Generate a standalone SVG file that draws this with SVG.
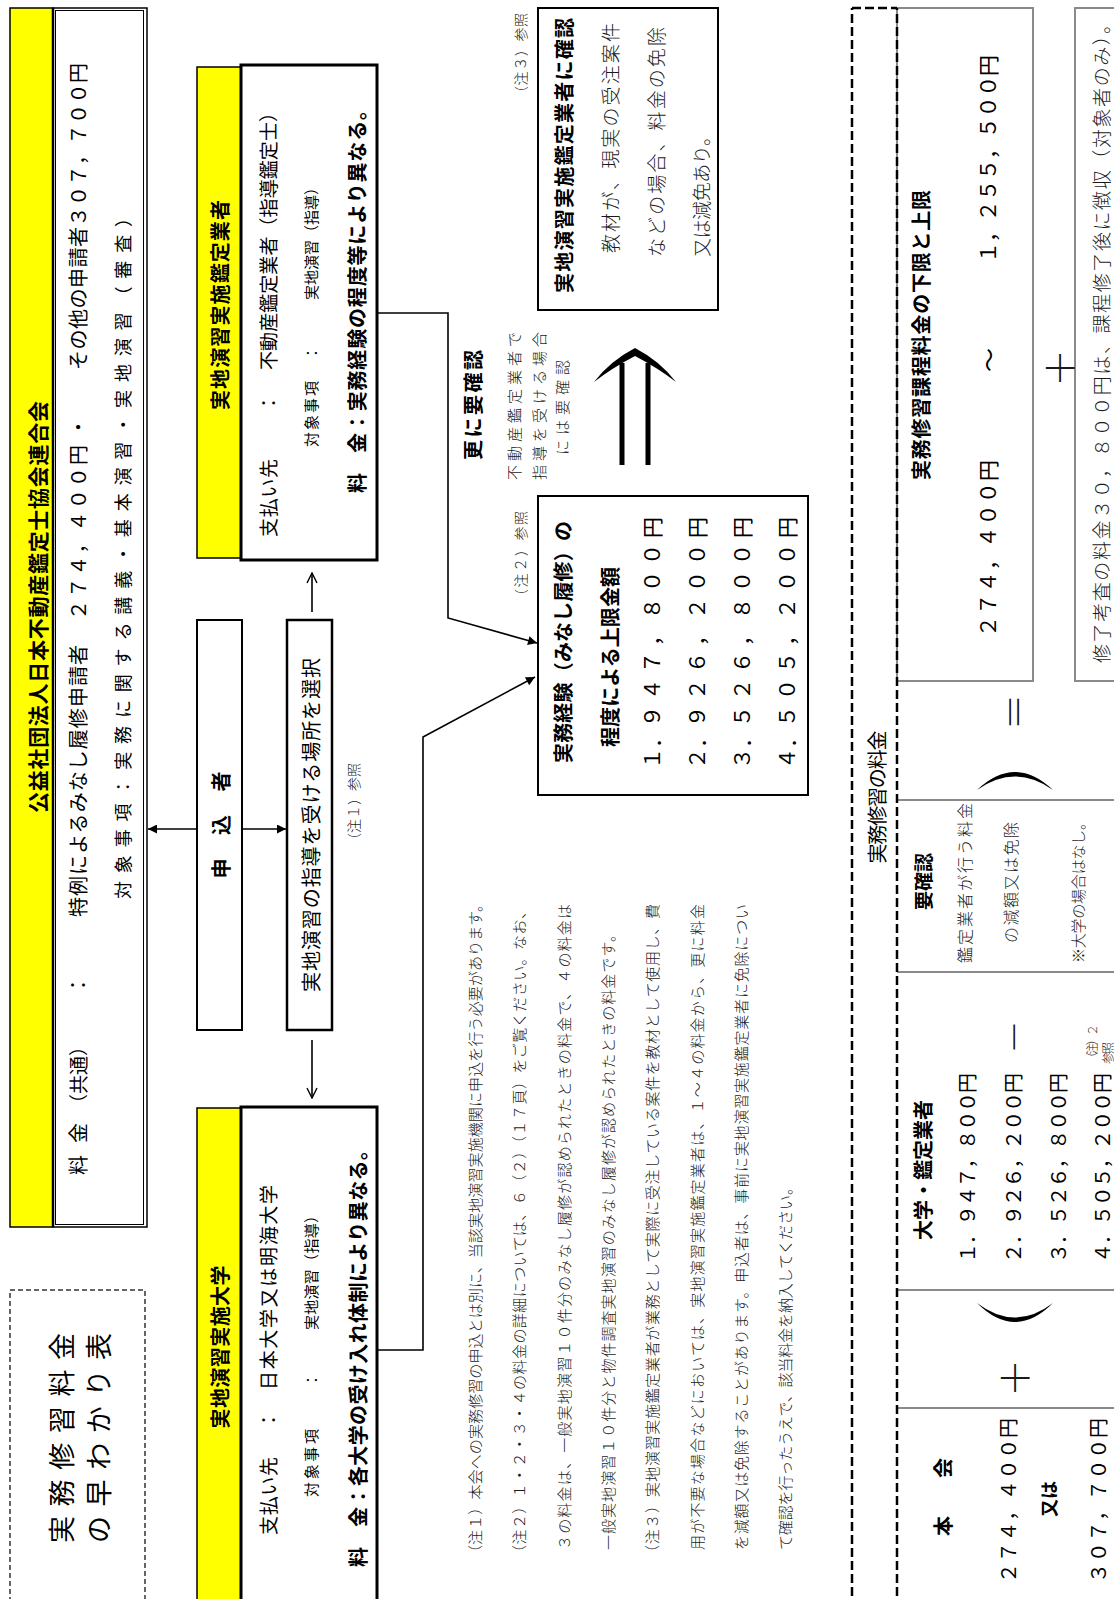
<svg xmlns="http://www.w3.org/2000/svg" width="1114" height="1599" viewBox="0 0 1114 1599">
<style>
.t{font-family:"Noto Sans CJK JP","Noto Sans",sans-serif;dominant-baseline:central;fill:#000}
.b{font-weight:bold}
.l{font-weight:300;fill:#1a1a1a}
.m{text-anchor:middle}
.ylw{fill:#ffff00;stroke:#000;stroke-width:1.5}
.box{fill:#fff;stroke:#000}
.gry{fill:none;stroke:#8a8a8a;stroke-width:2}
.dsh{stroke:#000;stroke-width:2.5;stroke-dasharray:9 4;fill:none}
.con{fill:none;stroke:#000;stroke-width:1.6}
.note{font-size:15px}
</style>
<defs>
<marker id="af" viewBox="0 0 10 10" refX="10" refY="5" markerWidth="11" markerHeight="9" markerUnits="userSpaceOnUse" orient="auto"><path d="M0,0 L10,5 L0,10 Z" fill="#000"/></marker>
<marker id="ao" viewBox="0 0 12 12" refX="11" refY="6" markerWidth="12" markerHeight="12" markerUnits="userSpaceOnUse" orient="auto"><path d="M1,1 L11,6 L1,11" fill="none" stroke="#000" stroke-width="1.4"/></marker>
</defs>
<rect x="0" y="0" width="1114" height="1599" fill="#fff"/>
<g transform="translate(0,1599) rotate(-90)">

<g id="title">
<rect x="-11" y="10" width="320" height="135" fill="none" stroke="#333" stroke-width="1.5" stroke-dasharray="5 3"/>
<text class="t" x="56" y="60" font-size="27" textLength="210" lengthAdjust="spacing">実務修習料金</text>
<text class="t" x="56" y="97" font-size="27" textLength="210" lengthAdjust="spacing">の早わかり表</text>
</g>

<g id="header">
<rect class="ylw" x="372" y="10" width="1219" height="43"/>
<text class="t b m" x="992" y="37" font-size="21" textLength="412">公益社団法人日本不動産鑑定士協会連合会</text>
<rect x="372" y="53" width="1219" height="94" fill="#fff" stroke="#000" stroke-width="1.5"/>
<rect x="374.5" y="55.5" width="1214" height="88" fill="none" stroke="#000" stroke-width="1"/>
<line x1="372" y1="53" x2="1591" y2="53" stroke="#000" stroke-width="2.5"/>
<text class="t" x="424" y="77" font-size="20">料</text>
<text class="t" x="456" y="77" font-size="20">金</text>
<text class="t" x="486" y="77" font-size="19" textLength="76">（共通）</text>
<text class="t m" x="614" y="77" font-size="20">：</text>
<text class="t" x="682" y="77" font-size="20" textLength="272">特例によるみなし履修申請者</text>
<text class="t" x="979" y="77" font-size="20" textLength="175">２７４，４００円</text>
<text class="t m" x="1172" y="77" font-size="20">・</text>
<text class="t" x="1229" y="77" font-size="20" textLength="307">その他の申請者３０７，７００円</text>
<text class="t" x="700" y="122" font-size="18" textLength="690">対象事項：実務に関する講義・基本演習・実地演習（審査）</text>
</g>

<g id="kanteigyosha">
<rect class="ylw" x="1041" y="197" width="491" height="44"/>
<text class="t b m" x="1294" y="219" font-size="20" textLength="210">実地演習実施鑑定業者</text>
<rect class="box" x="1039" y="241" width="495" height="136" stroke-width="3"/>
<text class="t" x="1062" y="267" font-size="19" textLength="78">支払い先</text>
<text class="t m" x="1196" y="267" font-size="19">：</text>
<text class="t" x="1229" y="267" font-size="19" textLength="267">不動産鑑定業者（指導鑑定士）</text>
<text class="t" x="1152" y="310" font-size="15" textLength="66">対象事項</text>
<text class="t m" x="1246" y="310" font-size="15">：</text>
<text class="t" x="1299" y="310" font-size="15" textLength="120">実地演習（指導）</text>
<text class="t b" x="1106" y="356" font-size="20">料</text>
<text class="t b" x="1146" y="356" font-size="20" textLength="353">金：実務経験の程度等により異なる。</text>
</g>

<g id="moushikomisha">
<rect class="box" x="569" y="197" width="410" height="45" stroke-width="2"/>
<text class="t b m" x="774" y="220" font-size="20" textLength="107">申　込　者</text>
</g>

<g id="sentaku">
<rect class="box" x="569" y="287" width="410" height="45" stroke-width="2.5"/>
<text class="t m" x="774" y="310" font-size="20" textLength="334">実地演習の指導を受ける場所を選択</text>
<text class="t l m" x="794" y="353" font-size="14" textLength="84" fill="#444">（注１）参照</text>
</g>

<g id="daigaku">
<rect class="ylw" x="-30" y="197" width="521" height="44"/>
<text class="t b m" x="252" y="219" font-size="20" textLength="163">実地演習実施大学</text>
<rect class="box" x="-30" y="241" width="522" height="136" stroke-width="3"/>
<text class="t" x="64" y="267" font-size="19" textLength="78">支払い先</text>
<text class="t m" x="179" y="267" font-size="19">：</text>
<text class="t" x="209" y="267" font-size="19" textLength="205">日本大学又は明海大学</text>
<text class="t" x="102" y="310" font-size="15" textLength="68">対象事項</text>
<text class="t m" x="219" y="310" font-size="15">：</text>
<text class="t" x="269" y="310" font-size="15" textLength="122">実地演習（指導）</text>
<text class="t b" x="32" y="357" font-size="20">料</text>
<text class="t b" x="72" y="357" font-size="20" textLength="387">金：各大学の受け入れ体制により異なる。</text>
</g>

<g id="kakunin">
<rect class="box" x="1289" y="538" width="302" height="180" stroke-width="2"/>
<text class="t b" x="1306" y="563" font-size="20" textLength="275">実地演習実施鑑定業者に確認</text>
<text class="t l" x="1346" y="609" font-size="19" textLength="230">教材が、現実の受注案件</text>
<text class="t l" x="1342" y="655" font-size="19" textLength="230">などの場合、料金の免除</text>
<text class="t l" x="1342" y="700" font-size="19" textLength="130">又は減免あり。</text>
<text class="t l" x="1499" y="520" font-size="14" textLength="87" fill="#444">（注３）参照</text>
</g>

<g id="sarani">
<text class="t b" x="1139" y="472" font-size="20" textLength="110">更に要確認</text>
<text class="t l" x="1119" y="513" font-size="15" textLength="148">不動産鑑定業者で</text>
<text class="t l" x="1119" y="538" font-size="15" textLength="148">指導を受ける場合</text>
<text class="t l" x="1144" y="561" font-size="15" textLength="95">には要確認</text>
<line x1="1134" y1="622" x2="1236" y2="622" stroke="#000" stroke-width="5"/>
<line x1="1134" y1="648" x2="1236" y2="648" stroke="#000" stroke-width="5"/>
<path d="M1217,594 Q1238,610 1251,635 Q1238,660 1217,676 Q1231,658 1243,635 Q1231,612 1217,594 Z" fill="#000"/>
</g>

<g id="jokyu">
<rect class="box" x="804" y="538" width="299" height="270" stroke-width="2"/>
<text class="t b" x="836" y="562" font-size="20" textLength="242">実務経験（みなし履修）の</text>
<text class="t b" x="852" y="609" font-size="20" textLength="180">程度による上限金額</text>
<text class="t" x="830" y="651" font-size="21">１．</text>
<text class="t" x="872" y="651" font-size="21" textLength="210">９４７，８００円</text>
<text class="t" x="830" y="696" font-size="21">２．</text>
<text class="t" x="872" y="696" font-size="21" textLength="210">９２６，２００円</text>
<text class="t" x="830" y="741" font-size="21">３．</text>
<text class="t" x="872" y="741" font-size="21" textLength="210">５２６，８００円</text>
<text class="t" x="830" y="786" font-size="21">４．</text>
<text class="t" x="872" y="786" font-size="21" textLength="210">５０５，２００円</text>
<text class="t l" x="996" y="520" font-size="14" textLength="92" fill="#444">（注２）参照</text>
</g>

<g id="notes">
<text class="t l note" x="39" y="474" textLength="663">（注１）本会への実務修習の申込とは別に、当該実地演習実施機関に申込を行う必要があります。</text>
<text class="t l note" x="39" y="518" textLength="656">（注２）１・２・３・４の料金の詳細については、６（２）（１７頁）をご覧ください。なお、</text>
<text class="t l note" x="49" y="563" textLength="646">３の料金は、一般実地演習１０件分のみなし履修が認められたときの料金で、４の料金は</text>
<text class="t l note" x="49" y="607" textLength="623">一般実地演習１０件分と物件調査実地演習のみなし履修が認められたときの料金です。</text>
<text class="t l note" x="39" y="651" textLength="656">（注３）実地演習実施鑑定業者が業務として実際に受注している案件を教材として使用し、費</text>
<text class="t l note" x="49" y="696" textLength="646">用が不要な場合などにおいては、実地演習実施鑑定業者は、１～４の料金から、更に料金</text>
<text class="t l note" x="49" y="740" textLength="646">を減額又は免除することがあります。申込者は、事前に実地演習実施鑑定業者に免除につい</text>
<text class="t l note" x="49" y="784" textLength="370">て確認を行ったうえで、該当料金を納入してください。</text>
</g>

<g id="ryokin">
<rect class="gry" x="918" y="897" width="673" height="136"/>
<rect class="gry" x="918" y="1075" width="673" height="60"/>
<line class="gry" x1="799" y1="897" x2="799" y2="1125"/>
<line class="gry" x1="627" y1="897" x2="627" y2="1125"/>
<line class="gry" x1="309" y1="897" x2="309" y2="1125"/>
<line class="gry" x1="191" y1="897" x2="191" y2="1125"/>
<line class="dsh" x1="-10" y1="852" x2="1591" y2="852"/>
<line class="dsh" x1="-10" y1="897" x2="1591" y2="897"/>
<line class="dsh" x1="1591" y1="852" x2="1591" y2="897"/>
<text class="t m" x="802" y="876" font-size="20" textLength="133">実務修習の料金</text>
<text class="t b" x="1119" y="920" font-size="20" textLength="290">実務修習課程料金の下限と上限</text>
<text class="t" x="962" y="987" font-size="21" textLength="177">２７４，４００円</text>
<text class="t m" x="1239" y="987" font-size="24">～</text>
<text class="t" x="1336" y="987" font-size="21" textLength="208">１，２５５，５００円</text>
<text class="t l" x="936" y="1100" font-size="19" textLength="648">修了考査の料金３０，８００円は、課程修了後に徴収（対象者のみ）。</text>
<text class="t l m" x="1231" y="1057" font-size="38">＋</text>
<text class="t l m" x="887" y="1012" font-size="36">＝</text>
<path d="M809,977 Q845,1015 809,1053 Q836,1015 809,977 Z" fill="#000"/>
<text class="t b" x="689" y="922" font-size="19" textLength="57">要確認</text>
<text class="t l" x="636" y="964" font-size="16" textLength="160">鑑定業者が行う料金</text>
<text class="t l" x="656" y="1010" font-size="16" textLength="121">の減額又は免除</text>
<text class="t l" x="636" y="1077" font-size="15" textLength="148">※大学の場合はなし。</text>
<text class="t l m" x="562" y="1012" font-size="34">－</text>
<text class="t l" x="535" y="1091" font-size="12" textLength="40">（注）２</text>
<text class="t l" x="535" y="1107" font-size="12" textLength="22">参照</text>
<text class="t b" x="359" y="922" font-size="20" textLength="140">大学・鑑定業者</text>
<text class="t" x="336" y="966" font-size="20" textLength="190">１．９４７，８００円</text>
<text class="t" x="336" y="1012" font-size="20" textLength="190">２．９２６，２００円</text>
<text class="t" x="336" y="1057" font-size="20" textLength="190">３．５２６，８００円</text>
<text class="t" x="336" y="1101" font-size="20" textLength="190">４．５０５，２００円</text>
<path d="M296,977 Q258,1015 296,1053 Q267,1015 296,977 Z" fill="#000"/>
<text class="t l m" x="221" y="1012" font-size="38">＋</text>
<text class="t b m" x="102" y="942" font-size="20" textLength="78">本　会</text>
<text class="t" x="16" y="1007" font-size="20" textLength="165">２７４，４００円</text>
<text class="t b" x="82" y="1048" font-size="18" textLength="36">又は</text>
<text class="t" x="16" y="1097" font-size="20" textLength="165">３０７，７００円</text>
</g>

<g id="connectors">
<line class="con" x1="770" y1="197" x2="770" y2="148" marker-end="url(#af)"/>
<line class="con" x1="770" y1="242" x2="770" y2="286" stroke-width="2.2" marker-end="url(#af)"/>
<line class="con" x1="987" y1="312" x2="1026" y2="312" stroke-width="1.4" marker-end="url(#ao)"/>
<line class="con" x1="559" y1="312" x2="501" y2="312" stroke-width="1.4" marker-end="url(#ao)"/>
<polyline class="con" points="1286,377 1286,448 981,448 956,537" stroke-width="2" marker-end="url(#af)"/>
<polyline class="con" points="249,377 249,423 862,423 922,535" stroke-width="2" marker-end="url(#af)"/>
</g>

</g>
</svg>
